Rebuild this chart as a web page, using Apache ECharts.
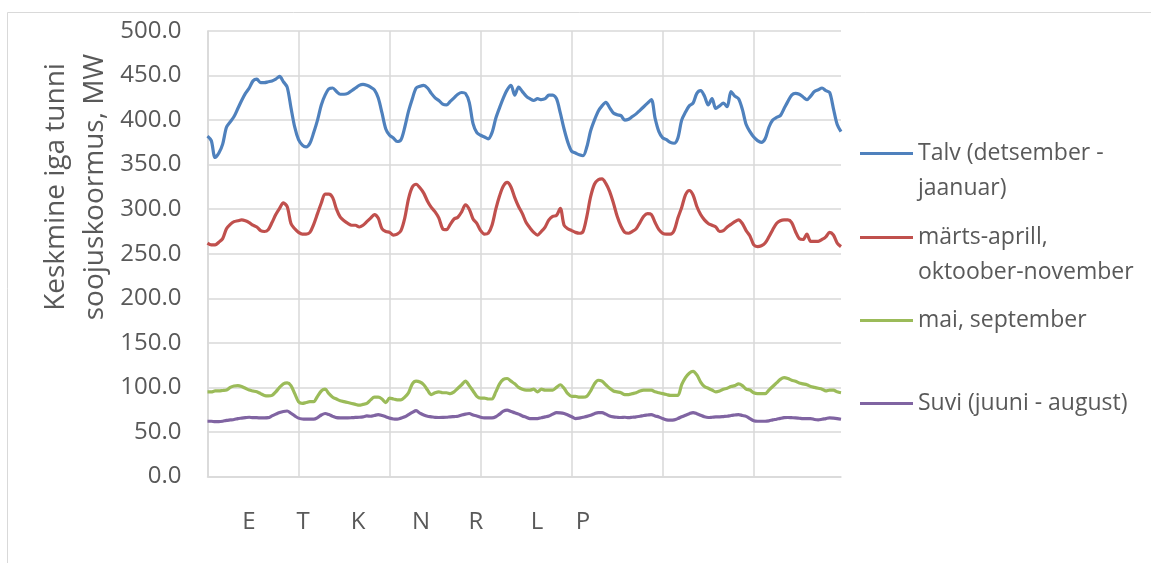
<!DOCTYPE html>
<html>
<head>
<meta charset="utf-8">
<script src="https://cdn.jsdelivr.net/npm/echarts@6/dist/echarts.min.js"></script>
<style>
  html, body { margin: 0; padding: 0; background: #fff; }
  #chart { width: 1151px; height: 563px; }
</style>
</head>
<body>
<div id="chart"></div>
<script>
// 7 days x 24 hours
const hours = Array.from({ length: 168 }, (_, i) => i);

const talv = [
  382, 377, 358, 363, 373, 392, 398, 404, 413, 422, 430, 436, 444, 446, 442, 442, 443, 444, 446, 449, 443, 437, 414, 392,
  378, 372, 370, 374, 386, 400, 417, 428, 435, 436, 432, 429, 429, 430, 433, 436, 439, 440, 439, 437, 434, 425, 408, 390,
  383, 380, 376, 378, 392, 410, 424, 436, 438, 439, 436, 430, 425, 422, 418, 417, 421, 425, 429, 431, 430, 420, 396, 386,
  383, 381, 379, 386, 402, 414, 425, 434, 439, 428, 437, 432, 427, 424, 422, 424, 423, 424, 428, 428, 424, 408, 390, 375,
  365, 363, 361, 360, 370, 388, 400, 410, 416, 420, 414, 408, 406, 405, 400, 401, 404, 407, 411, 415, 419, 423, 402, 387,
  380, 378, 375, 374, 380, 400, 409, 416, 419, 430, 433, 427, 417, 424, 413, 416, 419, 415, 432, 427, 424, 412, 395, 387,
  381, 377, 375, 379, 392, 400, 403, 405, 413, 421, 428, 430, 429, 426, 423, 427, 432, 434, 436, 433, 431, 413, 395, 387
];

const kevadSugis = [
  262, 260, 260, 263, 267, 278, 283, 286, 287, 288, 287, 285, 282, 280, 276, 275, 277, 285, 294, 301, 307, 303, 284, 278,
  274, 272, 272, 274, 283, 295, 307, 317, 317, 313, 300, 291, 287, 284, 282, 282, 280, 282, 286, 290, 294, 290, 278, 275,
  274, 271, 272, 276, 290, 312, 325, 328, 324, 318, 309, 302, 297, 290, 278, 277, 283, 289, 291, 297, 305, 300, 289, 284,
  276, 272, 273, 282, 300, 315, 326, 330, 325, 313, 303, 295, 285, 279, 274, 271, 275, 280, 288, 292, 293, 301, 282, 278,
  276, 274, 273, 275, 292, 314, 328, 333, 334, 329, 320, 307, 292, 281, 274, 273, 275, 278, 285, 292, 295, 294, 285, 277,
  273, 272, 272, 276, 290, 302, 316, 321, 316, 303, 294, 288, 284, 282, 280, 275, 276, 280, 283, 286, 288, 284, 276, 270,
  260, 258, 259, 262, 269, 277, 284, 287, 288, 288, 285, 275, 267, 266, 272, 264, 264, 264, 266, 269, 274, 271, 262, 258
];

const maiSept = [
  95, 95, 96, 96, 96.5, 97, 100, 101.5, 102, 101, 99, 97, 96, 95, 93, 91, 90.5, 91, 95, 100, 104, 105, 102, 93,
  84, 82, 83, 84, 84, 90, 96, 98, 93, 89, 87, 85, 84, 83, 82, 81, 80, 81, 82, 86, 89, 89, 87, 83,
  88, 87, 86, 86, 89, 94, 104, 107, 106, 103, 97, 92, 94, 95, 94, 94, 93, 95, 99, 103, 107, 102, 96, 90,
  88, 88, 87, 87, 95, 104, 109, 110, 107, 104, 100, 98, 97, 97, 98, 95, 98, 97, 97, 97, 100, 103, 99, 93,
  90, 90, 89, 89, 90, 96, 104, 108, 107, 103, 99, 96, 95, 94, 92, 92, 93, 94, 96, 97, 97, 97, 95, 94,
  93, 92, 91, 91, 91, 103, 111, 116, 118, 114, 106, 101, 99, 97, 95, 96, 98, 99, 101, 102, 104, 102, 98, 97,
  94, 93, 93, 93, 97, 101, 105, 109, 111, 110, 108, 107, 105, 104, 103, 101, 100, 99, 98, 96, 97, 97, 95, 94
];

const suvi = [
  62, 62, 61.5, 61.5, 62, 63, 63.5, 64, 65, 65.5, 66, 66.5, 66, 66, 65.8, 65.8, 66, 68, 70, 71.8, 73, 73.5, 71, 68,
  65.5, 64.5, 64.3, 64.3, 64.3, 66, 69, 70.7, 69.5, 67.5, 66, 65.8, 65.8, 65.8, 66, 66.3, 66.5, 67, 68, 67.6, 68.5, 69.5, 68.5, 67,
  65.5, 64.5, 64.3, 65.5, 67, 69.5, 72, 74, 71, 69, 67.6, 67, 66.3, 66.2, 66.3, 66.5, 67, 67.3, 67.6, 69, 70, 70.7, 69, 68,
  66.5, 65.8, 65.8, 65.8, 67, 70, 73.3, 74.4, 73, 71.5, 70, 68, 66.5, 65, 65, 65, 66, 66.9, 68, 70, 71.8, 71.5, 70.7, 69,
  67, 65, 65.5, 66.5, 67.5, 68.8, 70.5, 71.8, 71.8, 70, 68, 67, 66.5, 66.2, 66.5, 66, 66.5, 67, 67.6, 68.5, 69, 69.5, 68, 66.9,
  65, 63.5, 63.2, 63.5, 65, 67, 68.8, 70.5, 71.8, 70.5, 68.8, 67, 66.2, 66.5, 66.9, 67, 67.3, 67.6, 68.5, 69, 69.5, 68.5, 67.5, 65,
  62.5, 62, 62, 62, 62.5, 63.5, 64.3, 65.2, 66, 66.2, 66, 65.8, 65.4, 65, 65, 65, 64, 63.5, 64.3, 65, 65.8, 65.5, 65, 64.3
];

const seriesNames = [
  "Talv (detsember - jaanuar)",
  "märts-aprill, oktoober-november",
  "mai, september",
  "Suvi (juuni - august)"
];
// how the legend wraps each name
const legendLines = [
  ["Talv (detsember -", "jaanuar)"],
  ["märts-aprill,", "oktoober-november"],
  ["mai, september"],
  ["Suvi (juuni - august)"]
];
const dayLabels = ["E", "T", "K", "N", "R", "L", "P"];
const yTitle = ["Keskmine iga tunni", "soojuskoormus, MW"];

const colors = ["#4F81BD", "#C0504D", "#9BBB59", "#8064A2"];
const values = [talv, kevadSugis, maiSept, suvi];
const textColor = "#595959";
const font = "'Open Sans', sans-serif";

const chart = echarts.init(document.getElementById("chart"));

// legend rows (centre of first text line)
const legendY = [155, 239, 322, 405];
const legends = seriesNames.map((name, k) => {
  const lines = legendLines[k];
  const nLines = lines.length > 1 ? 3 : 1;
  return {
    data: [name],
    orient: "vertical",
    left: 860,
    top: legendY[k] - 1.5 - (nLines * 35) / 2,
    padding: 0,
    icon: "rect",
    itemWidth: 53,
    itemHeight: 3,
    selectedMode: false,
    formatter: () => (lines.length > 1 ? "\n" + lines.join("\n") : lines[0]),
    textStyle: { color: textColor, fontSize: 23, fontFamily: font, lineHeight: 35 }
  };
});

// day letters under the axis
const dayX = [249, 303, 358, 421, 476, 537, 583];

const option = {
  backgroundColor: "#fff",
  animation: false,
  grid: { left: 207.5, top: 31, width: 633.5, height: 445.5 },
  legend: legends,
  xAxis: {
    type: "category",
    data: hours,
    boundaryGap: false,
    axisLine: { lineStyle: { color: "#d9d9d9", width: 1.5 } },
    axisTick: { show: false },
    axisLabel: { show: false },
    splitLine: { show: true, interval: 23, lineStyle: { color: "#d9d9d9", width: 1.5 } }
  },
  yAxis: {
    type: "value",
    min: 0,
    max: 500,
    interval: 50,
    axisLine: { show: true, lineStyle: { color: "#d9d9d9", width: 1.5 } },
    axisTick: { show: false },
    axisLabel: {
      color: textColor,
      fontSize: 24,
      fontFamily: font,
      margin: 26,
      formatter: (v) => v.toFixed(1)
    },
    splitLine: { lineStyle: { color: "#d9d9d9", width: 1.5 } }
  },
  graphic: [
    {
      type: "rect",
      silent: true,
      shape: { x: 7.5, y: 12.5, width: 1200, height: 600 },
      style: { fill: "none", stroke: "#d9d9d9", lineWidth: 1 }
    },
    {
      type: "text",
      x: 76,
      y: 187,
      rotation: Math.PI / 2,
      style: {
        text: yTitle.join("\n"),
        fill: textColor,
        font: "28px " + font,
        lineHeight: 39,
        align: "center",
        verticalAlign: "middle"
      }
    }
  ].concat(
    dayLabels.map((d, k) => ({
      type: "text",
      x: dayX[k],
      y: 522,
      style: {
        text: d,
        fill: textColor,
        font: "24px " + font,
        align: "center",
        verticalAlign: "middle"
      }
    }))
  ),
  series: values.map((v, k) => ({
    name: seriesNames[k],
    type: "line",
    data: v,
    smooth: 0.3,
    symbol: "none",
    color: colors[k],
    lineStyle: { width: 3.2, color: colors[k] }
  }))
};

chart.setOption(option);
</script>
</body>
</html>
